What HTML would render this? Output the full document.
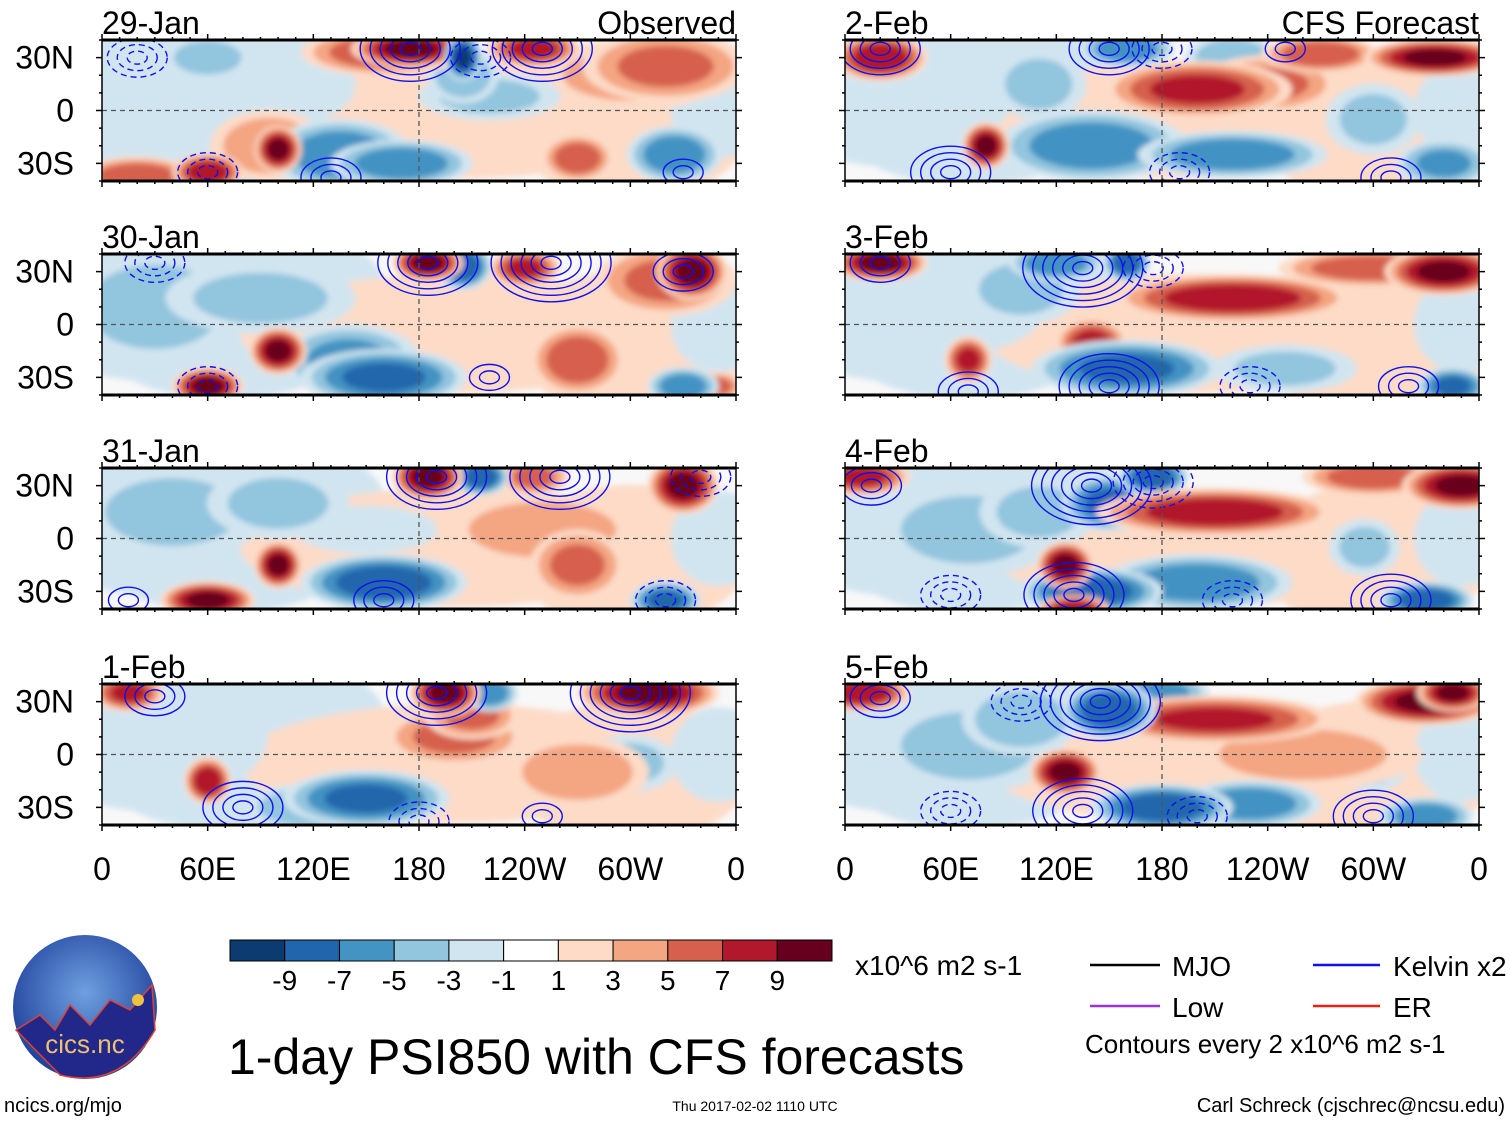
<!DOCTYPE html>
<html><head><meta charset="utf-8">
<style>
html,body{margin:0;padding:0;background:#fff;}
body{width:1510px;height:1121px;overflow:hidden;position:relative;font-family:"Liberation Sans Narrow","Liberation Sans",sans-serif;}
svg{position:absolute;left:0;top:0;}
</style></head>
<body>
<svg id="fig" width="1510" height="1121" viewBox="0 0 1510 1121" xmlns="http://www.w3.org/2000/svg">
<defs>
<filter id="soft" x="-20%" y="-20%" width="140%" height="140%"><feGaussianBlur stdDeviation="3"/></filter>
<radialGradient id="logoGrad" cx="50%" cy="40%" r="60%"><stop offset="0" stop-color="#6fa0e0"/><stop offset="1" stop-color="#1d3f9a"/></radialGradient>
</defs>
</svg>
<script>
// ---- data ----
const levelColors = ["#0b3b70","#2166ac","#4393c3","#92c5de","#d1e5f0","#ffffff","#fddbc7","#f4a582","#d6604d","#b2182b","#67001f"];
const colorbarLabels = ["-9","-7","-5","-3","-1","1","3","5","7","9"];
const lonTickLabels = ["0","60E","120E","180","120W","60W","0"];
const latTickLabels = ["30N","0","30S"];
const latTickValues = [30,0,-30];
const panelTitles = ["29-Jan","30-Jan","31-Jan","1-Feb","2-Feb","3-Feb","4-Feb","5-Feb"];
// broad weak background anomalies common to all days: [lon, lat, value, lonSpan, latSpan]
const backgroundBlobs = [[30,15,-2,60,35],[100,20,-2,45,25],[70,-15,-1.5,50,20],[200,-5,1.5,90,25],[300,-10,1.5,50,30],[350,0,-1.5,20,20]];
// anomaly centres: [lon, lat, value, lonSpan, latSpan]
const blobs29Jan = [[20,25,-2,40,20],[90,15,-2,40,20],[60,30,-3,20,10],[175,35,9,25,8],[160,33,6,35,10],[205,30,-9,8,10],[205,20,-4,15,12],[245,35,7,20,8],[320,25,5,35,15],[300,20,3,40,15],[100,-22,9,10,10],[95,-20,4,25,15],[135,-25,-6,30,15],[170,-30,-6,30,10],[220,8,-3,30,10],[60,-35,8,15,8],[20,-37,6,25,8],[270,-27,6,15,10],[325,-25,-6,20,12],[240,-10,2,60,15],[180,-5,2,30,10]];
const blobs30Jan = [[185,35,9,15,8],[205,33,-8,12,10],[335,30,9,15,12],[320,25,5,30,15],[100,-15,9,12,10],[60,-35,9,15,8],[160,-30,-7,35,12],[140,-20,-5,30,15],[270,-20,6,20,15],[330,-35,-6,15,8],[240,32,7,15,8],[30,10,-3,40,25],[90,15,-3,40,15],[240,0,2,60,15],[350,-35,5,10,6]];
const blobs31Jan = [[185,35,9,15,10],[215,35,-8,12,8],[330,30,9,15,12],[100,-15,9,10,10],[60,-35,9,20,8],[160,-25,-8,35,12],[250,5,4,40,15],[270,-15,5,20,15],[320,-35,-7,15,8],[40,15,-3,40,20],[100,20,-3,30,15],[150,5,-2,30,10],[245,35,5,15,8]];
const blobs1Feb = [[15,35,7,15,8],[195,35,9,15,10],[220,35,-6,12,8],[310,35,9,30,10],[200,10,5,30,12],[210,22,5,20,10],[60,-15,8,10,10],[150,-25,-7,35,12],[270,-10,4,30,15],[300,-5,-3,20,12],[40,10,-2,40,25],[120,-30,-4,30,10]];
const blobs2Feb = [[20,30,8,20,10],[160,35,-6,20,8],[220,30,-4,20,10],[270,32,6,25,8],[335,30,9,30,8],[200,12,7,40,12],[240,15,5,30,12],[80,-20,9,10,10],[140,-20,-6,40,15],[220,-25,-6,40,10],[300,-5,-3,20,15],[340,-30,-5,20,10],[40,5,-2,40,20],[110,15,-3,20,15],[230,0,2,60,20]];
const blobs3Feb = [[20,35,9,20,8],[120,35,-6,20,8],[160,35,-8,10,8],[220,15,8,50,10],[300,32,6,40,8],[340,30,9,25,10],[140,-10,7,15,10],[70,-20,7,10,10],[160,-25,-7,40,12],[250,-25,-3,30,10],[345,-35,-7,15,8],[60,10,-2,40,20],[100,20,-3,25,15]];
const blobs4Feb = [[10,35,7,20,8],[150,20,-7,20,12],[175,35,-8,15,8],[210,15,8,50,10],[300,35,6,30,8],[350,30,9,25,10],[125,-15,9,12,10],[140,-30,-8,30,10],[200,-25,-6,40,12],[130,-40,8,15,6],[330,-35,-8,20,8],[70,5,-3,40,20],[110,15,-3,25,15],[295,-5,-3,15,12]];
const blobs5Feb = [[10,35,8,20,8],[150,25,-8,20,12],[180,35,-5,20,8],[210,20,7,50,10],[330,30,9,30,10],[345,35,9,15,8],[125,-10,9,15,10],[180,-30,-8,30,10],[230,-28,-6,30,10],[330,-35,-6,20,8],[70,5,-3,40,20],[100,20,-4,25,15],[300,-5,-3,15,12],[260,0,3,50,15]];
// Kelvin contour centres: [lon, lat, rings, sign]
const kelvin29Jan = [[175,35,5,1],[215,30,3,-1],[250,35,5,1],[20,30,3,-1],[60,-35,3,-1],[130,-38,3,1],[330,-35,2,1]];
const kelvin30Jan = [[185,35,5,1],[255,35,6,1],[330,30,3,1],[60,-35,3,-1],[220,-30,2,1],[30,35,3,-1]];
const kelvin31Jan = [[190,35,5,1],[260,35,5,1],[340,35,3,-1],[160,-35,3,1],[320,-35,3,-1],[15,-35,2,1]];
const kelvin1Feb = [[190,35,5,1],[300,35,6,1],[30,33,3,1],[80,-30,4,1],[180,-38,3,-1],[250,-35,2,1]];
const kelvin2Feb = [[20,35,4,1],[150,35,4,1],[180,35,3,-1],[250,35,2,1],[60,-35,4,1],[190,-35,3,-1],[310,-38,3,1]];
const kelvin3Feb = [[20,35,3,1],[135,32,6,1],[175,32,3,-1],[70,-38,3,1],[150,-35,5,1],[230,-35,3,-1],[320,-35,3,1]];
const kelvin4Feb = [[15,30,3,1],[140,30,6,1],[175,32,4,-1],[130,-32,5,1],[60,-32,3,-1],[220,-35,3,-1],[310,-35,4,1]];
const kelvin5Feb = [[20,32,3,1],[145,30,6,1],[100,30,3,-1],[135,-32,5,1],[60,-32,3,-1],[200,-35,3,-1],[300,-35,4,1]];
const allBlobs = [blobs29Jan,blobs30Jan,blobs31Jan,blobs1Feb,blobs2Feb,blobs3Feb,blobs4Feb,blobs5Feb];
const allKelvin = [kelvin29Jan,kelvin30Jan,kelvin31Jan,kelvin1Feb,kelvin2Feb,kelvin3Feb,kelvin4Feb,kelvin5Feb];

// ---- layout ----
const NS="http://www.w3.org/2000/svg";
const fig=document.getElementById('fig');
const panelX=[102,845], panelY=[40,254,468,684], PW=634, PH=141;
const SPREAD=1.35;
function mk(tag,attrs,parent){const e=document.createElementNS(NS,tag);for(const k in attrs)e.setAttribute(k,attrs[k]);(parent||fig).appendChild(e);return e;}
function colorFor(v){const a=Math.abs(v);if(a<1)return levelColors[5];const s=Math.sign(v);return levelColors[5+s*Math.min(5,Math.floor((a+1)/2))];}

for(let p=0;p<8;p++){
  const col=p<4?0:1,row=p%4;
  const x0=panelX[col],y0=panelY[row];
  const xs=lon=>x0+lon/360*PW;
  const ys=lat=>y0+(40-lat)/80*PH;
  const g=mk('g',{});
  
  
  const cid='clip'+p;
  const cp=mk('clipPath',{id:cid},g);mk('rect',{x:x0,y:y0,width:PW,height:PH},cp);
  const field=mk('g',{'clip-path':'url(#'+cid+')'},g);
  mk('rect',{x:x0,y:y0,width:PW,height:PH,fill:'#f8f8f8'},field);
  const fg=mk('g',{filter:'url(#soft)'},field);
  const sorted=backgroundBlobs.concat(allBlobs[p].slice().sort((a,b)=>Math.abs(a[2])-Math.abs(b[2])));
  for(const b of sorted){
    const [lon,lat,v,sl,sa]=b;const av=Math.abs(v),sg=Math.sign(v);
    for(let k=1;k<=av;k+=2){
      const s=Math.sqrt(1-(k-1)/(av+1));
      const e=mk('ellipse',{cx:xs(lon),cy:ys(lat),rx:SPREAD*sl*s/360*PW,ry:SPREAD*sa*s/80*PH,fill:colorFor(sg*(k+0.5))},fg);
      
      
    }
  }
  // kelvin contours
  for(const c of allKelvin[p]){
    const [lon,lat,n,sg]=c;
    for(let k=1;k<=n;k++){
      const e=mk('ellipse',{cx:xs(lon),cy:ys(lat),rx:k*10,ry:k*6.5,fill:'none',stroke:'#1010ee','stroke-width':1.4},field);
      if(sg<0)e.setAttribute('stroke-dasharray','6 4');
      
      
    }
  }
  // reference lines
  mk('line',{x1:x0,x2:x0+PW,y1:ys(0),y2:ys(0),stroke:'#555','stroke-width':1.3,'stroke-dasharray':'5 4'},field);
  mk('line',{x1:xs(180),x2:xs(180),y1:y0,y2:y0+PH,stroke:'#555','stroke-width':1.3,'stroke-dasharray':'5 4'},field);
  // frame
  mk('rect',{x:x0,y:y0,width:PW,height:PH,fill:'none',stroke:'#000','stroke-width':1.5},g);
  mk('line',{x1:x0,x2:x0+PW,y1:y0,y2:y0,stroke:'#000','stroke-width':3},g);
  mk('line',{x1:x0,x2:x0+PW,y1:y0+PH,y2:y0+PH,stroke:'#000','stroke-width':3},g);
  for(let lon=0;lon<=360;lon+=10){
    const major=lon%60===0;
    mk('line',{x1:xs(lon),x2:xs(lon),y1:y0,y2:y0-(major?6:3),stroke:'#000','stroke-width':1.5},g);
    mk('line',{x1:xs(lon),x2:xs(lon),y1:y0+PH,y2:y0+PH+(major?6:3),stroke:'#000','stroke-width':1.5},g);
  }
  for(let lat=-40;lat<=40;lat+=10){
    const major=lat%30===0;
    mk('line',{x1:x0,x2:x0-(major?6:3),y1:ys(lat),y2:ys(lat),stroke:'#000','stroke-width':1.5},g);
    mk('line',{x1:x0+PW,x2:x0+PW+(major?6:3),y1:ys(lat),y2:ys(lat),stroke:'#000','stroke-width':1.5},g);
  }
  const t=mk('text',{x:x0,y:y0-6,'font-size':32},g);t.textContent=panelTitles[p];
  
  
  if(row===0){
    const r=mk('text',{x:x0+PW,y:y0-6,'font-size':32,'text-anchor':'end'},g);
    r.textContent=col===0?'Observed':'CFS Forecast';
    
    
  }
  if(col===0){
    for(let i=0;i<latTickLabels.length;i++){
      const l=mk('text',{x:74,y:ys(latTickValues[i])+11,'font-size':32,'text-anchor':'end'},g);
      l.textContent=latTickLabels[i];
      
      
    }
  }
  if(row===3){
    for(let i=0;i<lonTickLabels.length;i++){
      const l=mk('text',{x:xs(i*60),y:880,'font-size':32,'text-anchor':'middle'},g);
      l.textContent=lonTickLabels[i];
      
      
    }
  }
}

// colorbar
const cb=mk('g',{});


const cbx=230,cbw=602/11;
for(let i=0;i<11;i++){
  const r=mk('rect',{x:cbx+i*cbw,y:940,width:cbw,height:21,fill:levelColors[i],stroke:'#000','stroke-width':1},cb);
  
  
}
for(let i=0;i<colorbarLabels.length;i++){
  const l=mk('text',{x:cbx+(i+1)*cbw,y:990,'font-size':28,'text-anchor':'middle'},cb);
  l.textContent=colorbarLabels[i];
}
</script>
<svg width="1510" height="1121" style="pointer-events:none">
  <text x="855" y="975" font-size="28" font-family="Liberation Sans Narrow, Liberation Sans, sans-serif">x10^6 m2 s-1</text>
  <g font-size="28" font-family="Liberation Sans Narrow, Liberation Sans, sans-serif">
    <line x1="1090" x2="1160" y1="965" y2="965" stroke="#000" stroke-width="2.5"/><text x="1172" y="976">MJO</text>
    <line x1="1313" x2="1380" y1="965" y2="965" stroke="#1010ee" stroke-width="2.5"/><text x="1393" y="976">Kelvin x2</text>
    <line x1="1090" x2="1160" y1="1006" y2="1006" stroke="#9933dd" stroke-width="2.5"/><text x="1172" y="1017">Low</text>
    <line x1="1313" x2="1380" y1="1006" y2="1006" stroke="#ee2211" stroke-width="2.5"/><text x="1393" y="1017">ER</text>
    <text x="1085" y="1053" font-size="26">Contours every 2 x10^6 m2 s-1</text>
  </g>
  <text x="228" y="1074" font-size="50" font-family="Liberation Sans Narrow, Liberation Sans, sans-serif">1-day PSI850 with CFS forecasts</text>
  <g>
    <circle cx="85" cy="1007" r="72" fill="url(#logoGrad)"/>
    <path d="M16 1030 L40 1015 L55 1030 L70 1005 L90 1025 L110 1000 L130 1010 L152 985 L155 1030 Q120 1090 60 1075 Z" fill="#22288a" stroke="#e04030" stroke-width="1.5"/>
    <circle cx="138" cy="1000" r="6" fill="#f0c040"/>
    <text x="85" y="1053" font-size="26" text-anchor="middle" fill="#f0c070" font-family="Liberation Sans, sans-serif">cics.nc</text>
  </g>
  <text x="4" y="1112" font-size="20" font-family="Liberation Sans Narrow, Liberation Sans, sans-serif">ncics.org/mjo</text>
  <text x="755" y="1111" font-size="14" text-anchor="middle" font-family="Liberation Sans Narrow, Liberation Sans, sans-serif">Thu 2017-02-02 1110 UTC</text>
  <text x="1505" y="1112" font-size="20" text-anchor="end" font-family="Liberation Sans Narrow, Liberation Sans, sans-serif">Carl Schreck (cjschrec@ncsu.edu)</text>
</svg>
</body></html>
